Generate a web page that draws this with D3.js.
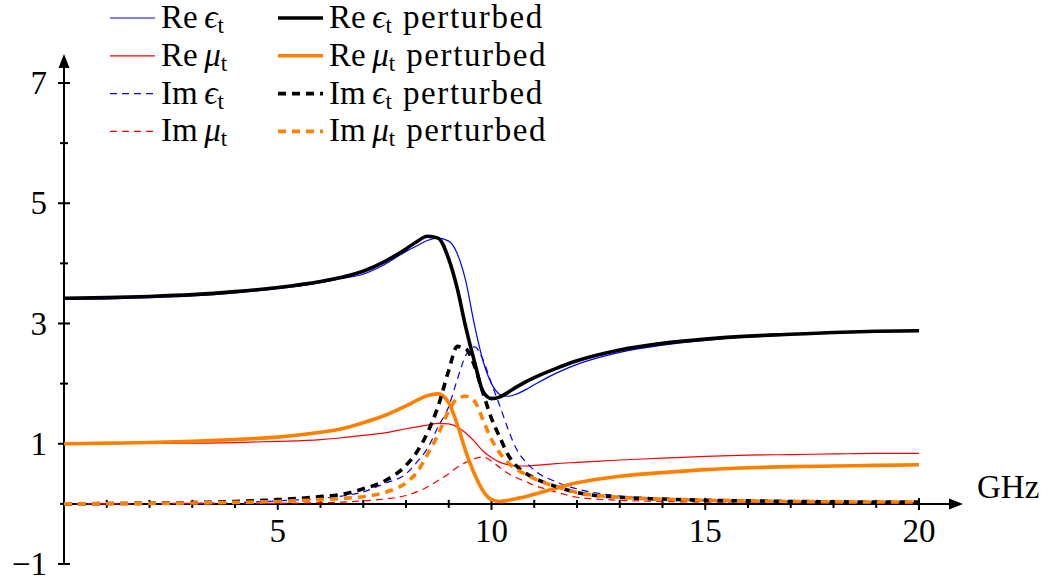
<!DOCTYPE html>
<html>
<head>
<meta charset="utf-8">
<script src="https://cdn.jsdelivr.net/npm/d3@7"></script>
<style>
  html, body { margin: 0; padding: 0; background: #fff; }
  svg { display: block; }
  text { font-family: "Liberation Serif", "DejaVu Serif", serif; fill: #000; }
</style>
</head>
<body>
<svg id="chart" width="1049" height="584"></svg>
<script>
// Frequency samples (GHz) shared by every series
const freq = [0, 1, 2, 3, 4, 5, 6, 6.5, 7, 7.5, 8, 8.25, 8.5, 8.75, 9, 9.2, 9.4, 9.6, 9.8,
              10, 10.2, 10.4, 10.6, 10.8, 11, 11.5, 12, 13, 14, 15, 16, 17, 18, 19, 20];

// Unperturbed effective parameters
const reEps = [3.40, 3.41, 3.43, 3.46, 3.51, 3.58, 3.68, 3.75, 3.82, 3.98, 4.20, 4.29, 4.38, 4.42, 4.37, 4.16, 3.70, 2.98, 2.38,
               2.00, 1.82, 1.79, 1.83, 1.90, 1.98, 2.17, 2.32, 2.52, 2.64, 2.72, 2.78, 2.82, 2.84, 2.86, 2.87];
const reMu  = [1.00, 1.00, 1.01, 1.01, 1.02, 1.04, 1.07, 1.10, 1.14, 1.18, 1.25, 1.28, 1.31, 1.34, 1.33, 1.28, 1.18, 1.04, 0.88,
               0.77, 0.69, 0.65, 0.63, 0.63, 0.64, 0.67, 0.69, 0.73, 0.76, 0.79, 0.81, 0.82, 0.83, 0.84, 0.84];
const imEps = [0.00, 0.003, 0.006, 0.01, 0.02, 0.05, 0.09, 0.13, 0.20, 0.34, 0.50, 0.69, 0.92, 1.28, 1.62, 2.07, 2.47, 2.61, 2.40,
               2.00, 1.62, 1.22, 0.89, 0.70, 0.56, 0.37, 0.25, 0.13, 0.08, 0.06, 0.05, 0.04, 0.035, 0.03, 0.03];
const imMu  = [0.00, 0.00, 0.002, 0.004, 0.006, 0.01, 0.02, 0.03, 0.05, 0.08, 0.14, 0.20, 0.28, 0.39, 0.50, 0.61, 0.69, 0.75, 0.78,
               0.71, 0.60, 0.50, 0.43, 0.37, 0.31, 0.20, 0.11, 0.06, 0.04, 0.03, 0.03, 0.025, 0.02, 0.02, 0.02];

// Perturbed effective parameters
const reEpsP = [3.42, 3.43, 3.45, 3.48, 3.53, 3.60, 3.70, 3.77, 3.87, 4.03, 4.24, 4.36, 4.45, 4.42, 4.07, 3.58, 2.93, 2.37, 1.87,
                1.75, 1.78, 1.86, 1.95, 2.03, 2.10, 2.25, 2.38, 2.56, 2.67, 2.74, 2.79, 2.82, 2.85, 2.87, 2.88];
const reMuP  = [1.00, 1.01, 1.02, 1.04, 1.07, 1.11, 1.19, 1.25, 1.35, 1.47, 1.63, 1.72, 1.80, 1.83, 1.68, 1.32, 0.87, 0.50, 0.22,
                0.07, 0.04, 0.06, 0.09, 0.12, 0.16, 0.26, 0.35, 0.46, 0.52, 0.57, 0.60, 0.62, 0.63, 0.64, 0.65];
const imEpsP = [0.00, 0.005, 0.01, 0.02, 0.04, 0.07, 0.12, 0.16, 0.25, 0.38, 0.64, 0.86, 1.18, 1.62, 2.22, 2.62, 2.58, 2.30, 1.85,
                1.42, 1.10, 0.80, 0.62, 0.51, 0.43, 0.29, 0.19, 0.11, 0.08, 0.06, 0.05, 0.04, 0.035, 0.03, 0.03];
const imMuP  = [0.00, 0.005, 0.01, 0.015, 0.025, 0.04, 0.07, 0.09, 0.12, 0.19, 0.35, 0.52, 0.82, 1.15, 1.55, 1.75, 1.79, 1.71, 1.40,
                1.07, 0.84, 0.68, 0.57, 0.49, 0.42, 0.29, 0.19, 0.11, 0.08, 0.06, 0.05, 0.04, 0.035, 0.03, 0.03];

// Axis ticks and labels
const xTicks = d3.range(1, 21);
const xLabels = [5, 10, 15, 20];
const yTicks = d3.range(-1, 8);
const yLabels = [-1, 1, 3, 5, 7];

const seriesDefs = [
  { values: reEps,  label: "Re", sym: "ϵ", color: "#0000ff", width: 1.2, dash: null,  pert: false },
  { values: reMu,   label: "Re", sym: "μ", color: "#ff0000", width: 1.2, dash: null,  pert: false },
  { values: imEps,  label: "Im", sym: "ϵ", color: "#0000ff", width: 1.2, dash: "7,5", pert: false },
  { values: imMu,   label: "Im", sym: "μ", color: "#ff0000", width: 1.2, dash: "7,5", pert: false },
  { values: reEpsP, label: "Re", sym: "ϵ", color: "#000000", width: 3.6, dash: null,  pert: true },
  { values: reMuP,  label: "Re", sym: "μ", color: "#ff8000", width: 3.6, dash: null,  pert: true },
  { values: imEpsP, label: "Im", sym: "ϵ", color: "#000000", width: 3.6, dash: "8,6", pert: true },
  { values: imMuP,  label: "Im", sym: "μ", color: "#ff8000", width: 3.6, dash: "8,6", pert: true }
];

const svg = d3.select("#chart");
const x = d3.scaleLinear().domain([0, 20]).range([64, 919]);
const y = d3.scaleLinear().domain([-1, 7]).range([564, 83]);
const FS = 33;

// ---- axes ----
const axes = svg.append("g").attr("stroke", "#000").attr("stroke-width", 2);
axes.append("line").attr("x1", x(0)).attr("x2", x(20) + 30).attr("y1", y(0)).attr("y2", y(0));
axes.append("line").attr("x1", x(0)).attr("x2", x(0)).attr("y1", y(-1)).attr("y2", y(7) - 16);

// arrowheads
const xTip = x(20) + 44, yTip = y(7) - 29;
svg.append("path")
  .attr("d", `M${xTip},${y(0)} L${xTip - 14},${y(0) - 5.5} L${xTip - 14},${y(0) + 5.5} Z`)
  .attr("fill", "#000");
svg.append("path")
  .attr("d", `M${x(0)},${yTip} L${x(0) - 5.5},${yTip + 14} L${x(0) + 5.5},${yTip + 14} Z`)
  .attr("fill", "#000");

// x ticks
axes.selectAll("line.xt").data(xTicks).join("line").attr("class", "xt")
  .attr("x1", d => x(d)).attr("x2", d => x(d))
  .attr("y1", d => y(0) - (xLabels.includes(d) ? 6 : 4))
  .attr("y2", d => y(0) + (xLabels.includes(d) ? 6 : 4));
// y ticks
axes.selectAll("line.yt").data(yTicks).join("line").attr("class", "yt")
  .attr("y1", d => y(d)).attr("y2", d => y(d))
  .attr("x1", d => x(0) - (yLabels.includes(d) ? 6 : 4))
  .attr("x2", d => x(0) + (yLabels.includes(d) ? 6 : 4));

svg.selectAll("text.xl").data(xLabels).join("text").attr("class", "xl")
  .attr("x", d => x(d)).attr("y", y(0) + 38)
  .attr("text-anchor", "middle").attr("font-size", FS)
  .text(d => d);
svg.selectAll("text.yl").data(yLabels).join("text").attr("class", "yl")
  .attr("x", x(0) - 17).attr("y", d => y(d) + 11)
  .attr("text-anchor", "end").attr("font-size", FS)
  .text(d => d < 0 ? "\u2212" + Math.abs(d) : d);

svg.append("text").attr("x", 977).attr("y", y(0) - 6)
  .attr("font-size", FS).text("GHz");

// ---- curves ----
const line = d3.line()
  .x((d, i) => x(freq[i]))
  .y(d => y(d))
  .curve(d3.curveMonotoneX);

svg.append("g").selectAll("path").data(seriesDefs).join("path")
  .attr("d", d => line(d.values))
  .attr("fill", "none")
  .attr("stroke", d => d.color)
  .attr("stroke-width", d => d.width)
  .attr("stroke-dasharray", d => d.dash)
  .attr("stroke-linejoin", "round");

// ---- legend ----
const legend = svg.append("g");
seriesDefs.forEach((s, i) => {
  const col = s.pert ? 1 : 0;
  const row = i % 4;
  const lx = col ? 278 : 110;
  const ly = 18 + row * 37.8;
  legend.append("line")
    .attr("x1", lx).attr("x2", lx + 45).attr("y1", ly).attr("y2", ly)
    .attr("stroke", s.color).attr("stroke-width", s.width)
    .attr("stroke-dasharray", s.dash);
  const t = legend.append("text").attr("x", lx + 51).attr("y", ly + 10).attr("font-size", FS);
  t.append("tspan").text(s.label + "\u2009");
  t.append("tspan").attr("font-style", "italic").text(s.sym);
  t.append("tspan").attr("font-size", FS * 0.7).attr("dy", 5).text("t");
  if (s.pert) {
    t.append("tspan").attr("dy", -5).attr("dx", 11).attr("letter-spacing", 1.6).text("perturbed");
  }
});
</script>
</body>
</html>
